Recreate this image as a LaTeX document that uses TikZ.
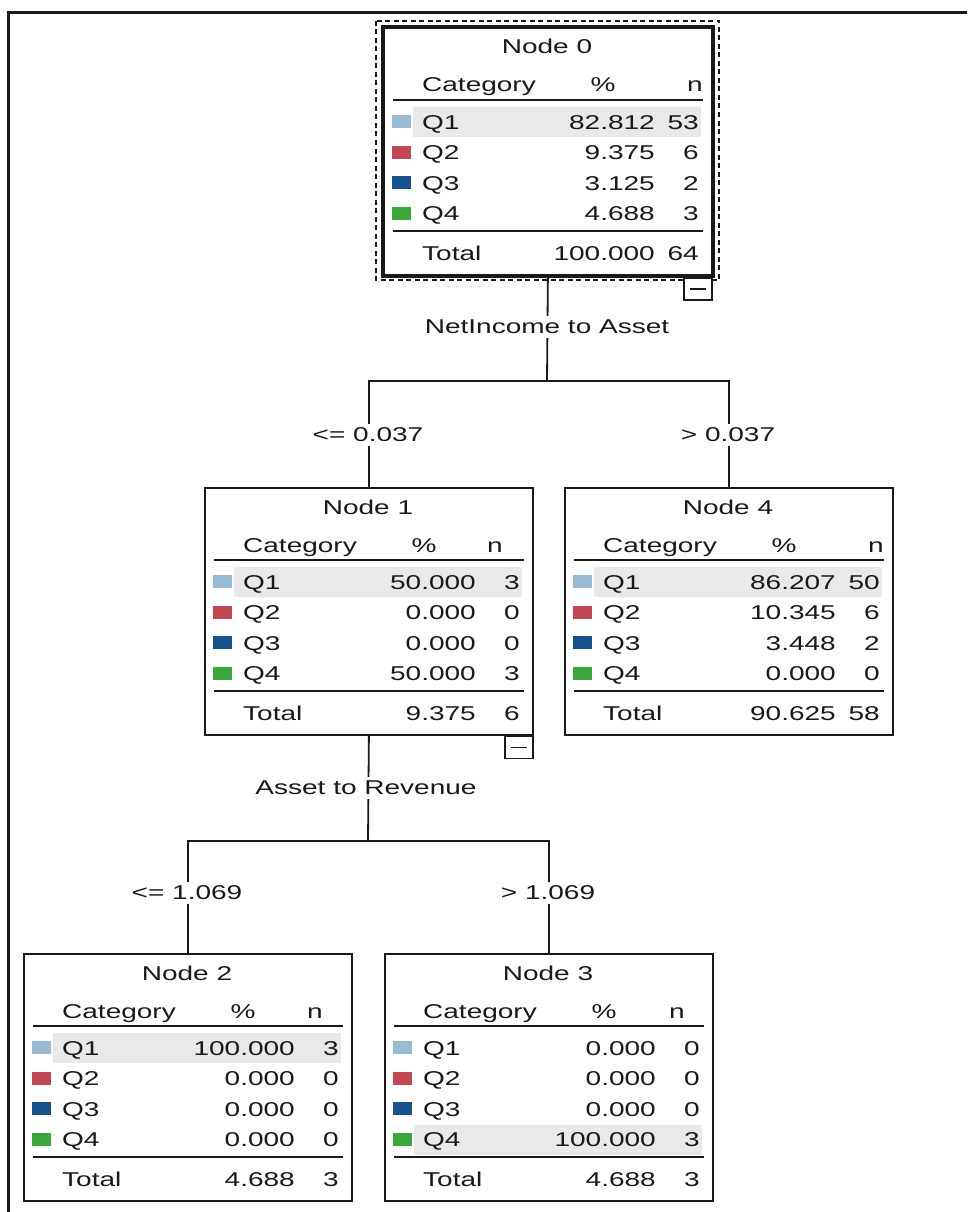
\documentclass[tikz,border=0pt]{standalone}
\usepackage{fontspec}
\setmainfont{Liberation Sans}[FakeStretch=1.4]
\definecolor{q1}{RGB}{152,186,211}
\definecolor{q2}{RGB}{193,72,82}
\definecolor{q3}{RGB}{23,82,140}
\definecolor{q4}{RGB}{60,168,60}
\definecolor{hl}{RGB}{233,233,233}
\definecolor{ink}{RGB}{25,25,25}
\tikzset{
  box/.style={draw=ink, line width=1.8pt, inner sep=0pt, minimum width=328pt, minimum height=247pt, anchor=north west},
  txt/.style={inner sep=0pt, text=ink, font=\fontsize{20}{24}\selectfont},
  rulel/.style={draw=ink, line width=1.7pt},
  conn/.style={draw=ink, line width=1.8pt},
  lab/.style={fill=white, text=ink, inner xsep=2pt, inner ysep=4pt, font=\fontsize{20}{24}\selectfont},
  colbox/.style={draw=ink, fill=white, line width=1.6pt, inner sep=0pt, minimum width=28pt, minimum height=22pt, anchor=north east}
}
% #1 name, #2 left, #3 top, #4 title no., #5 highlight row, #6 n header x, #7 rows, #8 total pct, #9 total n
\newcommand\ctbox[9]{%
  \fill[hl] (#2+30,{#3+80+30.5*(#5-1)}) rectangle (#2+318,{#3+110+30.5*(#5-1)});
  \node[box] (#1) at (#2,#3) {};
  \node[txt, anchor=base] (#1-title) at (#2+164,#3+27) {Node #4};
  \node[txt, anchor=base west] (#1-cat) at (#2+39,#3+65) {Category};
  \node[txt, anchor=base] (#1-pc) at (#2+220,#3+65) {\%};
  \node[txt, anchor=base] (#1-nh) at (#2+#6,#3+65) {n};
  \draw[rulel] (#2+10,#3+73) -- (#2+320,#3+73);
  \foreach \pp/\nn [count=\i] in {#7} {
    \fill[q\i] (#2+9,{#3+88+30.5*(\i-1)}) rectangle (#2+28,{#3+101+30.5*(\i-1)});
    \node[txt, anchor=base west] (#1-q\i) at (#2+39,{#3+102+30.5*(\i-1)}) {Q\i};
    \node[txt, anchor=base east] (#1-p\i) at (#2+272,{#3+102+30.5*(\i-1)}) {\pp};
    \node[txt, anchor=base east] (#1-n\i) at (#2+316,{#3+102+30.5*(\i-1)}) {\nn};
  }
  \draw[rulel] (#2+10,#3+204) -- (#2+320,#3+204);
  \node[txt, anchor=base west] (#1-tot) at (#2+39,#3+233) {Total};
  \node[txt, anchor=base east] (#1-tp) at (#2+272,#3+233) {#8};
  \node[txt, anchor=base east] (#1-tn) at (#2+316,#3+233) {#9};
}
\begin{document}
\begin{tikzpicture}[x=1pt, y=-1pt]
\useasboundingbox (0,0) rectangle (967,1212);
\fill[white] (0,0) rectangle (967,1212);
% outer frame
\draw[ink, line width=2.2pt] (8.5,1212) -- (8.5,12.5) -- (967,12.5);

\coordinate (j1) at (547,381);
\coordinate (j2) at (368,841);

\ctbox{n0}{383}{27}{0}{1}{312}{82.812/53,9.375/6,3.125/2,4.688/3}{100.000}{64}
\draw[ink, line width=3.4pt] (n0.north west) rectangle (n0.south east);
\draw[ink, line width=1.4pt, dash pattern=on 5pt off 3.5pt] (376,21) rectangle (719,280);

\ctbox{n1}{204}{487}{1}{1}{291}{50.000/3,0.000/0,0.000/0,50.000/3}{9.375}{6}
\ctbox{n4}{564}{487}{4}{1}{312}{86.207/50,10.345/6,3.448/2,0.000/0}{90.625}{58}
\ctbox{n2}{23}{953}{2}{1}{292}{100.000/3,0.000/0,0.000/0,0.000/0}{4.688}{3}
\ctbox{n3}{384}{953}{3}{4}{293}{0.000/0,0.000/0,0.000/0,100.000/3}{4.688}{3}

\draw[conn] (n0.south) -- (j1);
\draw[conn] (n1.north) -- (n1.north |- j1) -- (n4.north |- j1) -- (n4.north);
\draw[conn] (n1.south) -- (j2);
\draw[conn] (n2.north) -- (n2.north |- j2) -- (n3.north |- j2) -- (n3.north);

\node[lab] (l0) at (547,327) {NetIncome to Asset};
\node[lab] (l1) at (368,435) {<= 0.037};
\node[lab] (l4) at (728,435) {> 0.037};
\node[lab] (l2) at (366,788) {Asset to Revenue};
\node[lab] (l21) at (187,893) {<= 1.069};
\node[lab] (l31) at (548,893) {> 1.069};

% collapse markers
\node[colbox] (c0) at ([yshift=-1.5pt]n0.south east) {};
\draw[ink, line width=1.5pt] ([xshift=-8pt]c0.center) -- ([xshift=8pt]c0.center);
\node[colbox] (c1) at (n1.south east) {};
\draw[ink, line width=1.5pt] ([xshift=-8pt]c1.center) -- ([xshift=8pt]c1.center);
\end{tikzpicture}
\end{document}
